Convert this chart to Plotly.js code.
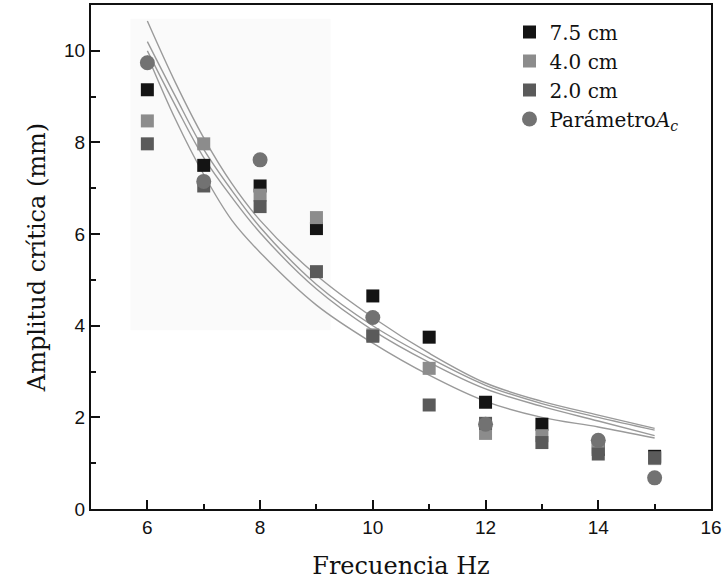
<!DOCTYPE html>
<html>
<head>
<meta charset="utf-8">
<script src="https://cdn.plot.ly/plotly-3.0.1.min.js"></script>
<style>html,body{margin:0;padding:0;background:#fff;}#chart{width:724px;height:584px;}</style>
</head>
<body>
<div id="chart"></div>
<script>
// Frequencies (Hz)
const freq = [6, 7, 8, 9, 10, 11, 12, 13, 14, 15];
// Critical amplitude (mm) per depth
const amp75 = [9.15, 7.5, 7.05, 6.12, 4.65, 3.75, 2.33, 1.85, 1.3, 1.15];
const amp40 = [8.47, 7.97, 6.85, 6.36, 3.8, 3.07, 1.65, 1.6, 1.35, 1.1];
const amp20 = [7.97, 7.05, 6.6, 5.18, 3.77, 2.27, 1.87, 1.45, 1.2, 1.12];
const ampAc = [9.74, 7.15, 7.62, null, 4.18, null, 1.85, null, 1.5, 0.68];

// Fitted curves
const fitX = [6, 6.5, 7, 7.5, 8, 9, 10, 11, 12, 13, 14, 15];
const fit1 = [10.65, 9.3, 8.1, 7.1, 6.3, 5.1, 4.18, 3.4, 2.75, 2.35, 2.05, 1.76];
const fit2 = [10.2, 9.0, 7.85, 6.95, 6.15, 4.9, 4.0, 3.3, 2.7, 2.3, 2.0, 1.72];
const fit3 = [10.0, 8.8, 7.67, 6.8, 6.03, 4.8, 3.9, 3.2, 2.62, 2.24, 1.92, 1.6];
const fit4 = [9.9, 8.5, 7.3, 6.3, 5.6, 4.45, 3.62, 2.92, 2.35, 2.0, 1.79, 1.55];

const legendNames = ['7.5 cm', '4.0 cm', '2.0 cm', 'Parámetro<i>A</i><sub><i>c</i></sub>'];

const lineStyle = {color: '#9a9a9a', width: 1.4, shape: 'spline'};
const fits = [fit1, fit2, fit3, fit4].map(f => ({
  x: fitX, y: f, mode: 'lines', line: lineStyle, showlegend: false, hoverinfo: 'skip'
}));

const pts = [
  {x: freq, y: amp75, name: legendNames[0], color: '#141414', symbol: 'square', size: 13},
  {x: freq, y: amp40, name: legendNames[1], color: '#8c8c8c', symbol: 'square', size: 13},
  {x: freq, y: amp20, name: legendNames[2], color: '#5a5a5a', symbol: 'square', size: 13},
  {x: freq, y: ampAc, name: legendNames[3], color: '#727272', symbol: 'circle', size: 15}
].map(s => ({
  x: s.x, y: s.y, name: s.name, mode: 'markers', type: 'scatter',
  marker: {color: s.color, symbol: s.symbol, size: s.size, line: {width: 0}}
}));

const serif = '"DejaVu Serif", "Liberation Serif", serif';
const sans = '"Liberation Sans", Arial, sans-serif';

const layout = {
  width: 724, height: 584,
  margin: {l: 91, r: 13, t: 5, b: 75},
  paper_bgcolor: '#fff', plot_bgcolor: '#fff',
  showlegend: true,
  legend: {x: 0.675, y: 0.985, xanchor: 'left', yanchor: 'top',
           font: {family: serif, size: 20, color: '#111'}, bgcolor: 'rgba(0,0,0,0)',
           tracegroupgap: 0, itemwidth: 30},
  xaxis: {
    range: [5, 16], dtick: 2, tick0: 0, showgrid: false, zeroline: false,
    showline: true, linecolor: '#111', linewidth: 2, mirror: true,
    ticks: 'inside', ticklen: 9, tickwidth: 2, tickcolor: '#111',
    minor: {dtick: 1, ticks: 'inside', ticklen: 5, tickwidth: 2, tickcolor: '#111', showgrid: false},
    tickfont: {family: sans, size: 19, color: '#111'},
    title: {text: 'Frecuencia Hz', font: {family: serif, size: 24, color: '#111'}, standoff: 20}
  },
  yaxis: {
    range: [0, 11], dtick: 2, tick0: 0, showgrid: false, zeroline: false,
    showline: true, linecolor: '#111', linewidth: 2, mirror: true,
    ticks: 'inside', ticklen: 9, tickwidth: 2, tickcolor: '#111',
    minor: {dtick: 1, ticks: 'inside', ticklen: 5, tickwidth: 2, tickcolor: '#111', showgrid: false},
    tickfont: {family: sans, size: 19, color: '#111'},
    title: {text: 'Amplitud crítica (mm)', font: {family: serif, size: 24, color: '#111'}, standoff: 12}
  },
  shapes: [{type: 'rect', xref: 'x', yref: 'y', x0: 5.7, x1: 9.25, y0: 3.9, y1: 10.7,
            fillcolor: '#fafafa', line: {width: 0}, layer: 'below'}]
};

Plotly.newPlot('chart', fits.concat(pts), layout, {displayModeBar: false, staticPlot: true});
</script>
</body>
</html>
